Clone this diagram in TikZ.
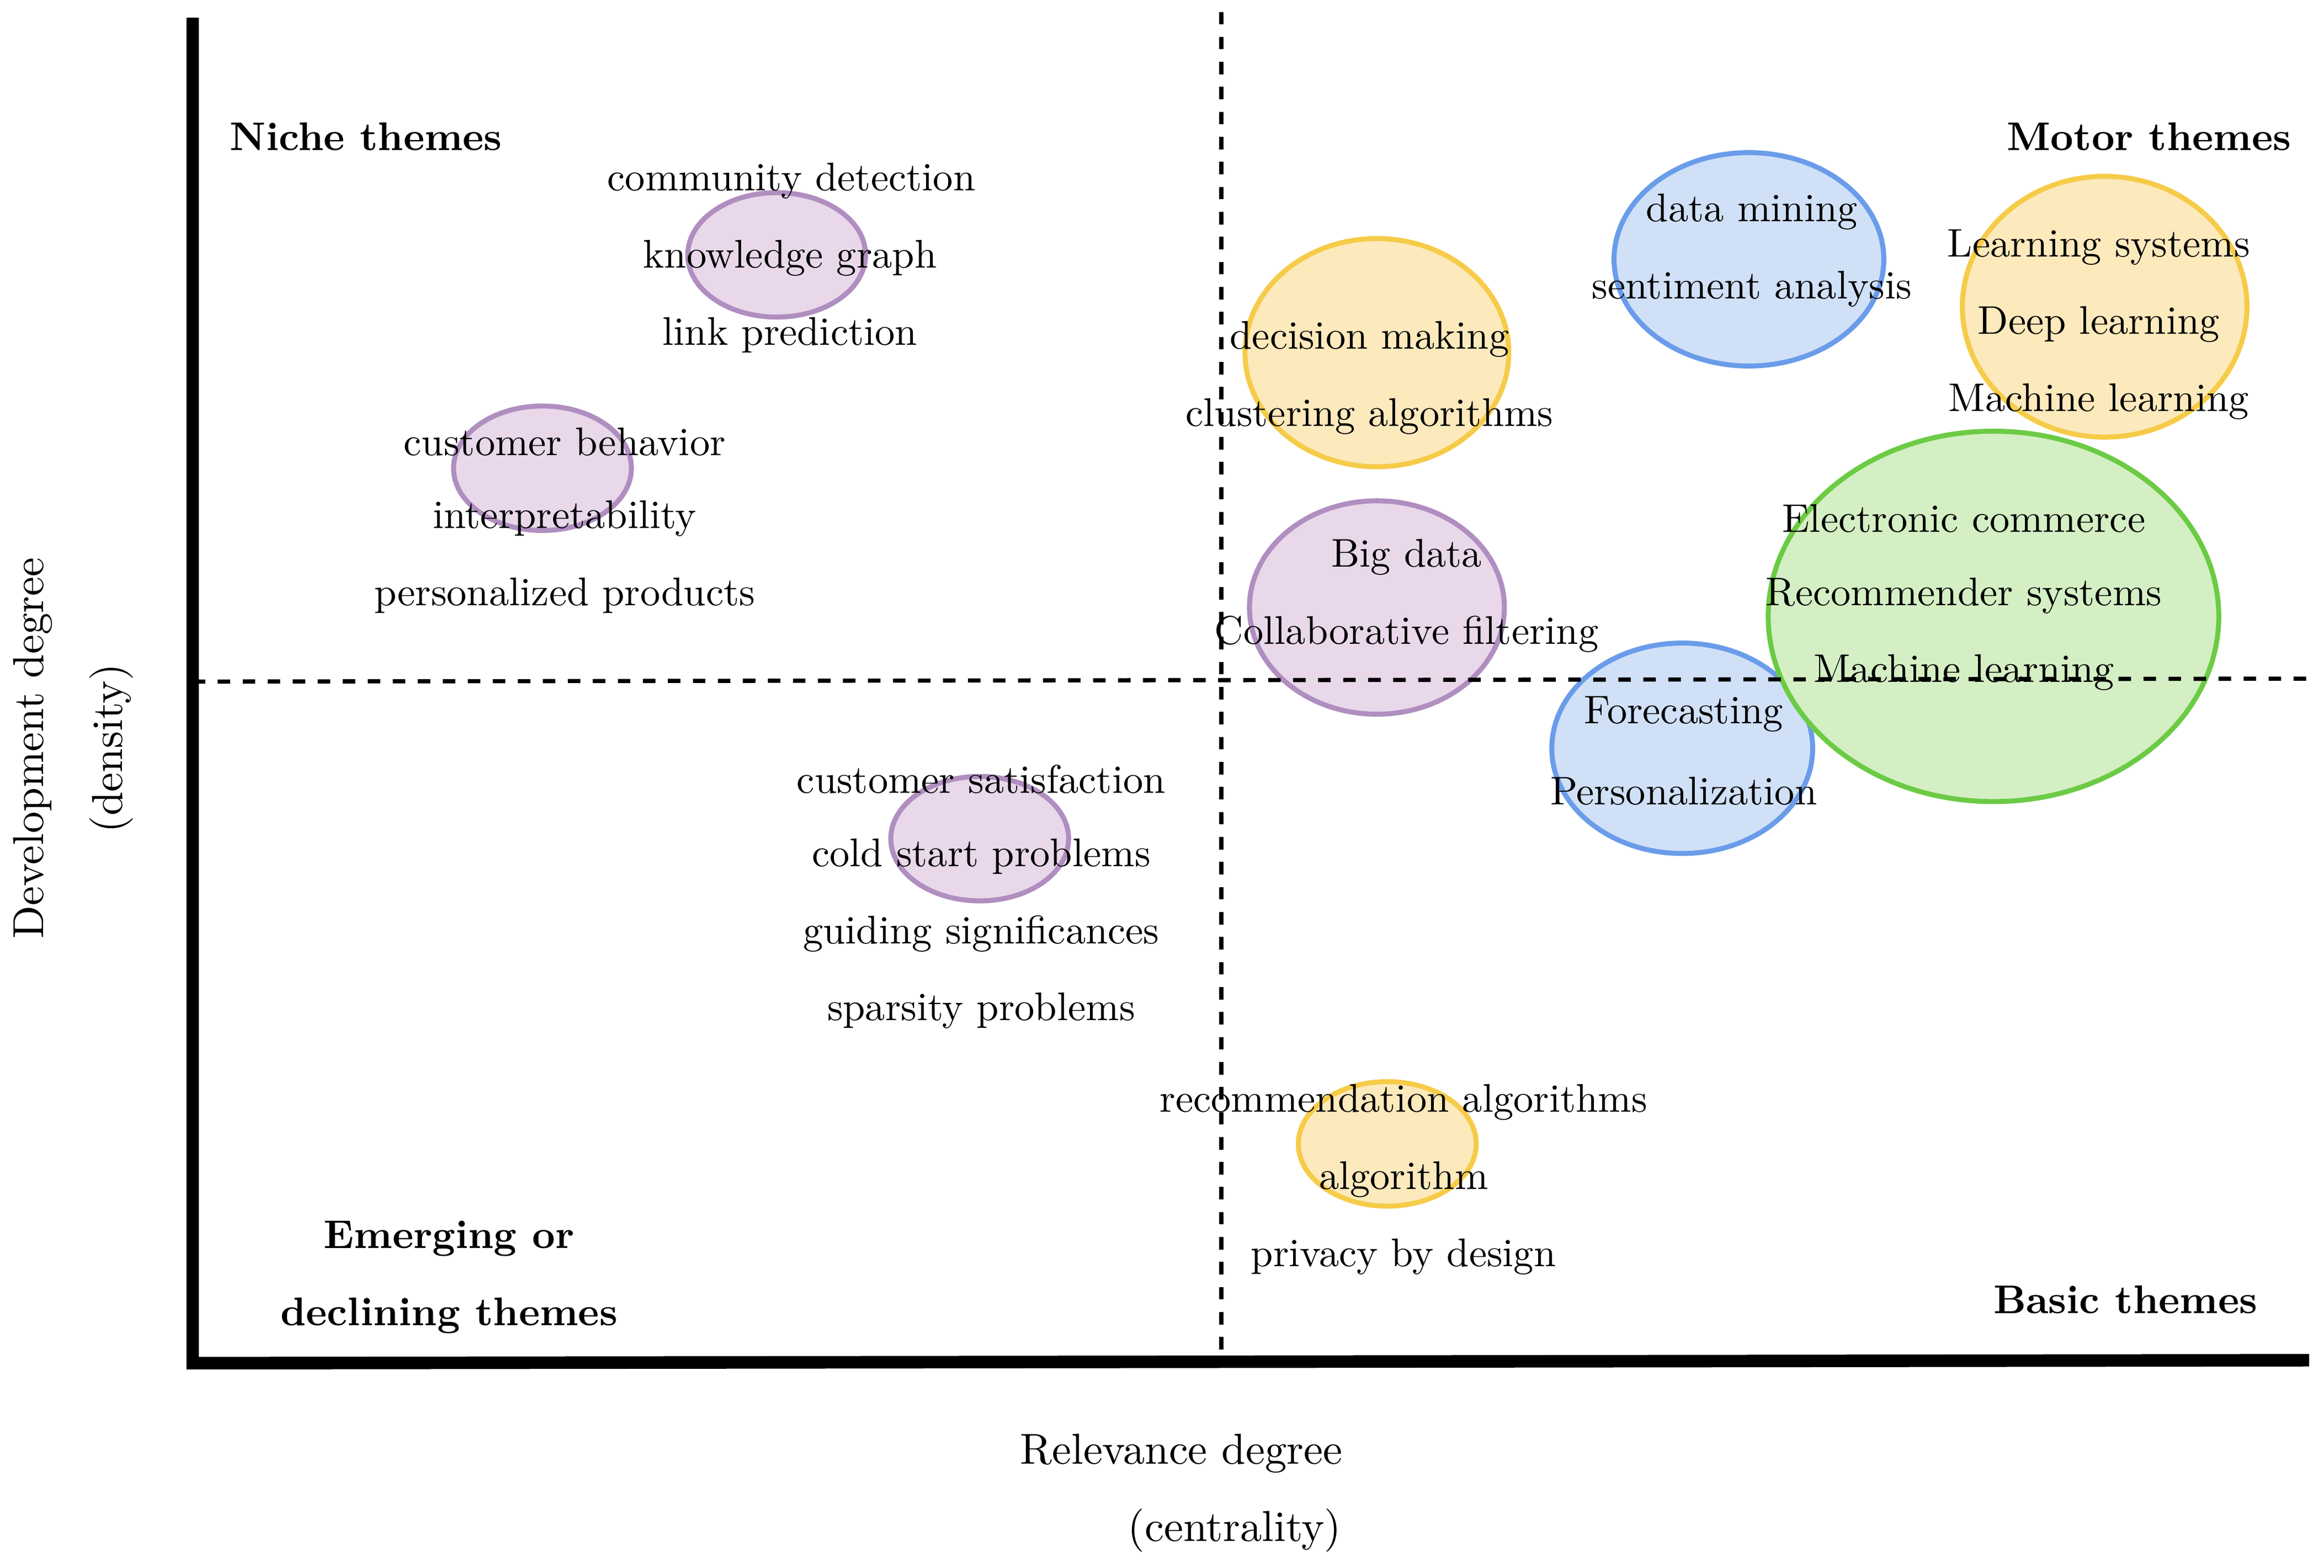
\documentclass[tikz,border=0pt]{standalone}
\definecolor{puD}{HTML}{B08EC0}\definecolor{puF}{HTML}{E8D8EA}
\definecolor{yeD}{HTML}{F6CB48}\definecolor{yeF}{HTML}{FCE9BC}
\definecolor{blD}{HTML}{6A9CEA}\definecolor{blF}{HTML}{D0E0F7}
\definecolor{grD}{HTML}{6CCB45}\definecolor{grF}{HTML}{D4EFC4}
\begin{document}
\begin{tikzpicture}[x=0.0125cm,y=-0.0125cm,
 t/.style={font=\fontsize{9.6}{11}\selectfont,inner sep=0pt},
 hd/.style={font=\fontsize{9.6}{11}\selectfont\bfseries,inner sep=0pt},
 ax/.style={font=\fontsize{10.4}{12}\selectfont,inner sep=0pt},
 pu/.style={draw=puD,fill=puF,line width=1.2pt},
 ye/.style={draw=yeD,fill=yeF,line width=1.2pt},
 bl/.style={draw=blD,fill=blF,line width=1.2pt},
 gr/.style={draw=grD,fill=grF,line width=1.2pt}]
\useasboundingbox (0,0) rectangle (1568,1058);
% ellipses
\draw[pu] (524,172) ellipse [x radius=60,y radius=42];
\draw[pu] (366,316) ellipse [x radius=60,y radius=42];
\draw[pu] (929,410) ellipse [x radius=86,y radius=72];
\draw[pu] (661,566) ellipse [x radius=60,y radius=42];
\draw[ye] (929,238) ellipse [x radius=89,y radius=77];
\draw[ye] (1420,207) ellipse [x radius=96,y radius=88];
\draw[ye] (936,772) ellipse [x radius=60,y radius=42];
\draw[bl] (1180,175) ellipse [x radius=91,y radius=72];
\draw[bl] (1135,505) ellipse [x radius=88,y radius=71];
\draw[gr] (1345,416) ellipse [x radius=152,y radius=125];
% axes
\coordinate (o) at (130,920); \coordinate (yt) at (130,12); \coordinate (xr) at (1558,918);
\draw[line width=3pt] (yt) -- (o) -- (xr);
\coordinate (v1) at (824,8); \coordinate (v2) at (824,918);
\coordinate (h1) at (130,460); \coordinate (h2) at (1558,458);
\draw[dashed,line width=1pt] (v1) -- (v2);
\draw[dashed,line width=1pt] (h1) -- (h2);
% headings
\node[hd] (n1) at (247,92) {Niche themes};
\node[hd] (n2) at (1450,92) {Motor themes};
\node[hd] (n3) at (303,836) {Emerging or};
\node[hd] (n4) at (303,888) {declining themes};
\node[hd] (n5) at (1434,877) {Basic themes};
\node[ax,rotate=90] (a1) at (22,505) {Development degree};
\node[ax,rotate=90] (a2) at (75,505) {(density)};
\node[ax] (a3) at (797,981) {Relevance degree};
\node[ax] (a4) at (833,1033) {(centrality)};
% labels
\node[t] (l1) at (534,122) {community detection};
\node[t] (l2) at (533,174) {knowledge graph};
\node[t] (l3) at (533,226) {link prediction};
\node[t] (l4) at (381,298) {customer behavior};
\node[t] (l5) at (381,350) {interpretability};
\node[t] (l6) at (381,402) {personalized products};
\node[t] (l7) at (924,229) {decision making};
\node[t] (l8) at (924,281) {clustering algorithms};
\node[t] (l9) at (949,376) {Big data};
\node[t] (l10) at (949,428) {Collaborative filtering};
\node[t] (l11) at (1182,143) {data mining};
\node[t] (l12) at (1182,195) {sentiment analysis};
\node[t] (l13) at (1416,167) {Learning systems};
\node[t] (l14) at (1416,219) {Deep learning};
\node[t] (l15) at (1416,271) {Machine learning};
\node[t] (l16) at (1325,350) {Electronic commerce};
\node[t] (l17) at (1325,402) {Recommender systems};
\node[t] (l18) at (1325,454) {Machine learning};
\node[t] (l19) at (1136,482) {Forecasting};
\node[t] (l20) at (1136,534) {Personalization};
\node[t] (l21) at (662,526) {customer satisfaction};
\node[t] (l22) at (662,578) {cold start problems};
\node[t] (l23) at (662,630) {guiding significances};
\node[t] (l24) at (662,682) {sparsity problems};
\node[t] (l25) at (947,744) {recommendation algorithms};
\node[t] (l26) at (947,796) {algorithm};
\node[t] (l27) at (947,848) {privacy by design};
\end{tikzpicture}
\end{document}
